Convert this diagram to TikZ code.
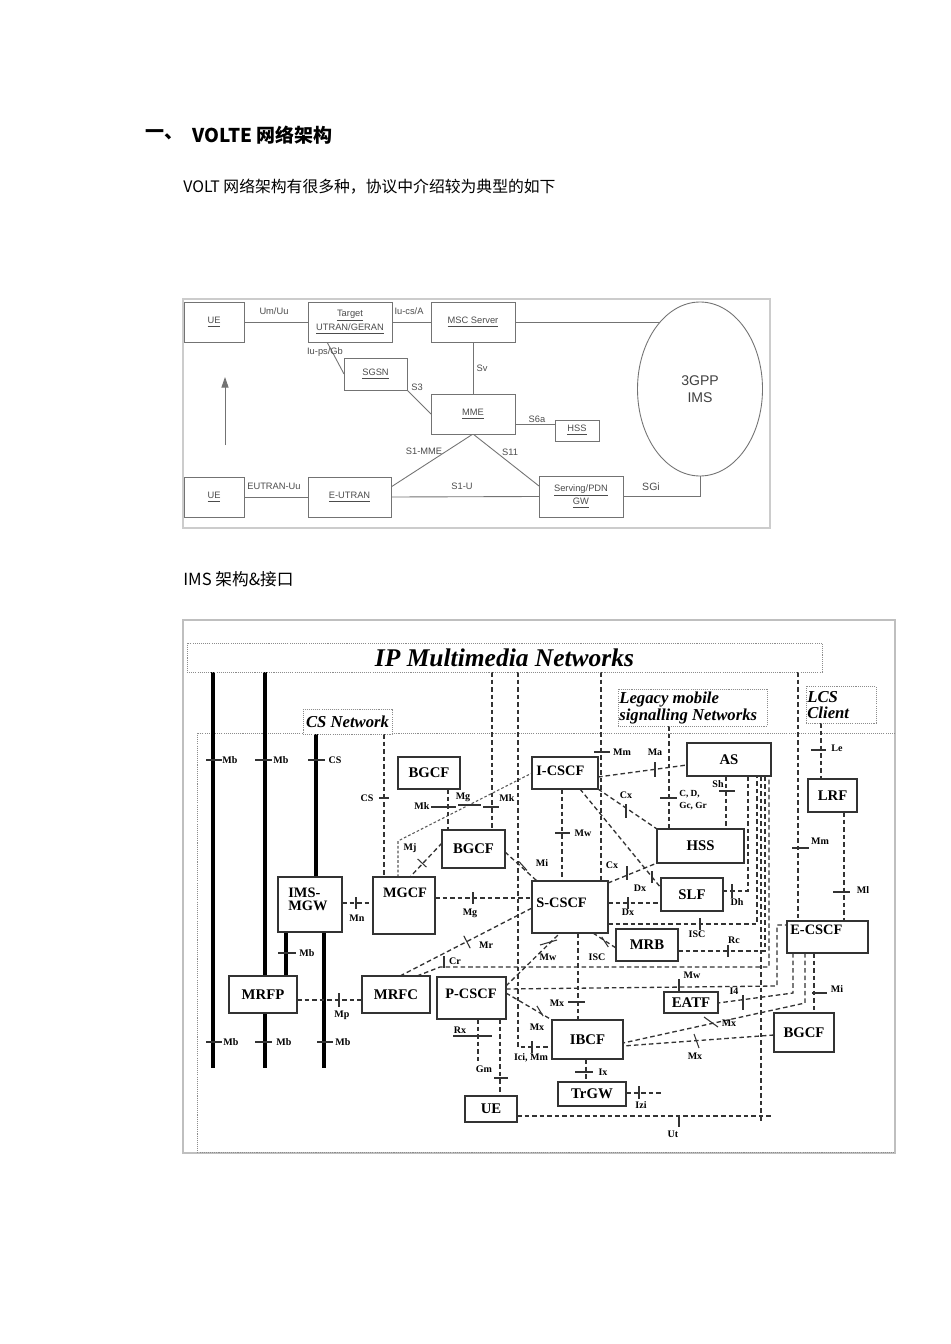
\documentclass[tikz,border=0pt]{standalone}
\usepackage{fontspec}
\newfontfamily\cjk{Noto Sans CJK SC}
\newfontfamily\arialf{Liberation Sans}
\newfontfamily\tnr{Liberation Serif}
\usetikzlibrary{shapes.geometric,arrows.meta,calc}
\pgfdeclarelayer{bg}
\pgfsetlayers{bg,main}
\newcommand{\mybox}[7]{\node[#1, minimum width={(#5-#3)*0.02cm}, minimum height={(#6-#4)*0.02cm}] (#2) at ({(#3+#5)/2},{(#4+#6)/2}) {#7};}
\begin{document}
\begin{tikzpicture}[x=0.02cm,y=-0.02cm,
 tbox/.style={draw=black!55, line width=0.5pt, fill=white, inner sep=0, outer sep=0, font=\arialf\fontsize{5.3pt}{6pt}\selectfont, text=black!70, align=center},
 tln/.style={draw=black!55, line width=0.5pt},
 ttx/.style={font=\arialf\fontsize{5.3pt}{6pt}\selectfont, text=black!70, inner sep=0, align=center},
 ibox/.style={draw=black!80, line width=0.9pt, fill=white, inner sep=0, outer sep=0, font=\tnr\bfseries\fontsize{8.4pt}{9pt}\selectfont},
 itx/.style={font=\tnr\bfseries\fontsize{8.2pt}{7.5pt}\selectfont, inner sep=0},
 ilb/.style={font=\tnr\bfseries\fontsize{5.7pt}{6pt}\selectfont, inner sep=0},
 dl/.style={draw=black!80, line width=0.75pt, dash pattern=on 2.6pt off 1.7pt},
 dlf/.style={draw=black!65, line width=0.6pt, dash pattern=on 1.5pt off 1.2pt},
 tk/.style={draw=black!80, line width=0.6pt},
 thk/.style={draw=black, line width=2.3pt},
 dotbox/.style={draw=black!45, line width=0.5pt, dash pattern=on 0.6pt off 0.6pt, fill=white, inner sep=0, outer sep=0},
 ital/.style={font=\tnr\bfseries\itshape\fontsize{9.5pt}{9.5pt}\selectfont, inner sep=0, align=left}
]
\begin{pgfonlayer}{bg}
\fill[white] (0,0) rectangle (950,1344);
\end{pgfonlayer}
\useasboundingbox (0,0) rectangle (950,1344);

\foreach \v in {213,265,286,316,324,327,384,398,400,410,417,440,448,478,492,500,518,537,560,562,578,580,586,593,601,663,669,726,748,757,761,765,769,773,777,793,798,805,814,821,844}
  \coordinate (c\v) at (\v,0);
\foreach \v in {424,486,487,765,773,777,798,841,843,852,863,883,888,891,898,903,908,924,925,948,951,967,986,989,993,1000,1003,1035,1043,1046,1047,1062,1093,1116,1122}
  \coordinate (r\v) at (0,\v);

% ---------- texts ----------
\node[anchor=west, inner sep=0, font=\cjk\bfseries\fontsize{10.8pt}{12pt}\selectfont] (h1a) at (145,135) {一、};
\node[anchor=west, inner sep=0, font=\cjk\bfseries\fontsize{10.8pt}{12pt}\selectfont] (h1b) at (192,135) {VOLTE 网络架构};
\node[anchor=west, inner sep=0, font=\cjk\fontsize{9pt}{11pt}\selectfont] (p1) at (183,187) {VOLT 网络架构有很多种，协议中介绍较为典型的如下};
\node[anchor=west, inner sep=0, font=\cjk\fontsize{9.5pt}{11pt}\selectfont] (p2) at (183,579) {IMS 架构\&接口};

% ---------- top diagram ----------
\mybox{tbox}{ue1}{184}{302}{244}{342}{\underline{UE}}
\mybox{tbox}{tgt}{308}{302}{392}{342}{\underline{Target}\\\underline{UTRAN/GERAN}}
\mybox{tbox}{msc}{431}{302}{515}{342}{\underline{MSC Server}}
\mybox{tbox}{sgsn}{344}{358}{407}{390}{\underline{SGSN}}
\mybox{tbox}{mme}{431}{394}{515}{434}{\underline{MME}}
\mybox{tbox}{hssa}{555}{420}{599}{441}{\underline{HSS}}
\mybox{tbox}{ue2}{184}{477}{244}{517}{\underline{UE}}
\mybox{tbox}{eutran}{308}{477}{391}{517}{\underline{E-UTRAN}}
\mybox{tbox}{gw}{539}{476}{623}{517}{\underline{Serving/PDN}\\\underline{GW}}
\node[draw=black!55, line width=0.5pt, ellipse, fill=white, minimum width={125*0.02cm}, minimum height={174*0.02cm}, inner sep=0, outer sep=0, font=\arialf\fontsize{8pt}{10pt}\selectfont, text=black!75, align=center] (ims) at (700,389) {3GPP\\IMS};

\node[ttx] (l-umuu) at (274,311) {Um/Uu};
\node[ttx] (l-iucs) at (409,311) {Iu-cs/A};
\node[ttx] (l-iups) at (325,352) {Iu-ps/Gb};
\node[ttx] (l-s3) at (417,387) {S3};
\node[ttx] (l-sv) at (482,368) {Sv};
\node[ttx] (l-s6a) at (537,419) {S6a};
\node[ttx] (l-s1mme) at (424,451) {S1-MME};
\node[ttx] (l-s11) at (510,452) {S11};
\node[ttx] (l-euu) at (274,486) {EUTRAN-Uu};
\node[ttx] (l-s1u) at (462,486) {S1-U};
\node[ttx, font=\arialf\fontsize{6pt}{7pt}\selectfont] (l-sgi) at (651,487) {SGi};
\coordinate (arB) at (225,445);
\coordinate (arT) at (225,377);

% ---------- IMS diagram boxes ----------
\mybox{dotbox}{ipm}{187}{643}{822}{672}{\tnr\bfseries\itshape\fontsize{14.5pt}{15pt}\selectfont IP Multimedia Networks}
\mybox{dotbox}{csn}{303}{709}{392}{734}{\tnr\bfseries\itshape\fontsize{9.5pt}{10pt}\selectfont CS Network}
\mybox{dotbox}{leg}{618}{689}{767}{726}{}
\mybox{dotbox}{lcs}{806}{686}{876}{723}{}
\node[ital, anchor=west] (t-leg) at (619,708) {Legacy mobile\\signalling Networks};
\node[ital, anchor=west] (t-lcs) at (807,705) {LCS\\Client};

\mybox{ibox}{bgcfa}{398}{757}{460}{789}{BGCF}
\mybox{ibox}{bgcfb}{442}{830}{505}{868}{BGCF}
\mybox{ibox}{icscf}{532}{757}{598}{789}{}
\mybox{ibox}{scscf}{532}{881}{608}{933}{}
\mybox{ibox}{as}{687}{743}{771}{776}{AS}
\mybox{ibox}{hss}{657}{829}{744}{863}{HSS}
\mybox{ibox}{slf}{661}{878}{723}{911}{SLF}
\mybox{ibox}{mrb}{616}{929}{678}{961}{MRB}
\mybox{ibox}{lrf}{808}{779}{857}{812}{LRF}
\mybox{ibox}{ecscf}{787}{921}{868}{953}{}
\mybox{ibox}{eatf}{664}{992}{718}{1013}{EATF}
\mybox{ibox}{bgcfc}{774}{1013}{834}{1052}{BGCF}
\mybox{ibox}{ibcf}{552}{1020}{623}{1059}{IBCF}
\mybox{ibox}{trgw}{558}{1082}{626}{1106}{TrGW}
\mybox{ibox}{mgw}{278}{877}{342}{932}{}
\mybox{ibox}{mgcf}{373}{877}{435}{934}{}
\mybox{ibox}{mrfp}{229}{976}{297}{1013}{MRFP}
\mybox{ibox}{mrfc}{362}{976}{430}{1013}{MRFC}
\mybox{ibox}{pcscf}{437}{977}{506}{1019}{}
\mybox{ibox}{ue}{465}{1096}{517}{1122}{UE}
\node[itx, anchor=west] (t-icscf) at (536,771) {I-CSCF};
\node[itx, anchor=west] (t-scscf) at (536,903) {S-CSCF};
\node[itx, anchor=west] (t-ecscf) at (790,930) {E-CSCF};
\node[itx] (t-mgcf) at (405,893) {MGCF};
\node[itx, anchor=west, align=left] (t-mgw) at (288,899) {IMS-\\MGW};
\node[itx] (t-pcscf) at (471,994) {P-CSCF};

% labels
\node[ilb] (m1) at (230,760) {Mb};
\node[ilb] (m2) at (281,760) {Mb};
\node[ilb] (m3) at (335,760) {CS};
\node[ilb] (m4) at (307,953) {Mb};
\node[ilb] (m5) at (231,1042) {Mb};
\node[ilb] (m6) at (284,1042) {Mb};
\node[ilb] (m7) at (343,1042) {Mb};
\node[ilb] (m8) at (367,798) {CS};
\node[ilb] (m9) at (422,806) {Mk};
\node[ilb] (m10) at (463,797) {Mg};
\node[ilb] (m11) at (507,798) {Mk};
\node[ilb] (m12) at (410,848) {Mj};
\node[ilb] (m13) at (542,863) {Mi};
\node[ilb] (m14) at (583,833) {Mw};
\node[ilb] (m15) at (470,913) {Mg};
\node[ilb] (m16) at (357,918) {Mn};
\node[ilb] (m17) at (486,945) {Mr};
\node[ilb] (m18) at (455,961) {Cr};
\node[ilb] (m19) at (548,957) {Mw};
\node[ilb] (m20) at (692,975) {Mw};
\node[ilb] (m21) at (537,1027) {Mx};
\node[ilb] (m22) at (557,1003) {Mx};
\node[ilb] (m23) at (460,1030) {Rx};
\node[ilb] (m24) at (484,1069) {Gm};
\node[ilb] (m25) at (673,1134) {Ut};
\node[ilb] (m26) at (737,902) {Dh};
\node[ilb] (m27) at (697,934) {ISC};
\node[ilb] (m28) at (734,940) {Rc};
\node[ilb] (m29) at (597,957) {ISC};
\node[ilb] (m30) at (612,865) {Cx};
\node[ilb] (m31) at (626,795) {Cx};
\node[ilb] (m32) at (640,888) {Dx};
\node[ilb] (m33) at (628,912) {Dx};
\node[ilb] (m34) at (622,752) {Mm};
\node[ilb] (m35) at (655,752) {Ma};
\node[ilb, anchor=west, align=left, font=\tnr\bfseries\fontsize{5.3pt}{7.2pt}\selectfont] (m36) at (679,800) {C, D,\\Gc, Gr};
\node[ilb] (m37) at (718,784) {Sh};
\node[ilb] (m38) at (820,841) {Mm};
\node[ilb] (m39) at (837,748) {Le};
\node[ilb] (m40) at (863,890) {Ml};
\node[ilb] (m41) at (734,991) {I4};
\node[ilb] (m42) at (729,1023) {Mx};
\node[ilb] (m43) at (837,989) {Mi};
\node[ilb] (m44) at (695,1056) {Mx};
\node[ilb] (m45) at (603,1072) {Ix};
\node[ilb] (m46) at (641,1105) {Izi};
\node[ilb] (m47) at (342,1015) {Mp};
\node[ilb] (m48) at (531,1058) {Ici, Mm};

\coordinate (b1) at (213,1068);
\coordinate (b2) at (265,1068);
\coordinate (b3) at (324,1068);

\begin{pgfonlayer}{bg}
% top diagram
\draw[draw=black!20, line width=0.6pt] (183,299) rectangle (770,528);
\draw[tln] (ue1.east) -- (tgt.west);
\draw[tln] (tgt.east) -- (msc.west);
\draw[tln] (msc.east) -- (msc.east -| ims.121);
\draw[tln] (tgt.south -| c327) -- (sgsn.west);
\draw[tln] (sgsn.south east) -- (mme.west);
\draw[tln] (msc.south) -- (mme.north);
\draw[tln] (mme.east |- r424) -- (hssa.west |- r424);
\draw[tln] (eutran.east |- r487) -- (mme.south);
\draw[tln] (mme.south) -- (gw.west |- r486);
\draw[tln] (ue2.east) -- (eutran.west);
\draw[tln] (eutran.east) -- (gw.west);
\draw[tln] (gw.east) -| (ims.south);
\draw[tln, -{Triangle[length=6pt,width=4pt]}] (arB) -- (arT);
\draw[black!55, line width=1.1pt] (tgt.south west) -- (tgt.south east) -- (tgt.north east);
\draw[black!55, line width=1.1pt] (sgsn.south west) -- (sgsn.south east);

% IMS frame
\draw[draw=black!25, line width=0.6pt] (183,620) rectangle (895,1153);
\draw[draw=black!45, line width=0.5pt, dash pattern=on 0.6pt off 0.6pt] (895,733) -- (197,733) -- (197,1152) -- (895,1152);

% thick bearer lines
\draw[thk] (ipm.south -| b1) -- (b1);
\draw[thk] (ipm.south -| b2) -- (b2);
\draw[thk] (csn.south -| c316) -- (mgw.north -| c316);
\draw[thk] (mgw.south -| c286) -- (mrfp.north -| c286);
\draw[thk] (mgw.south -| b3) -- (b3);
\draw[tk] (206,760) -- (222,760);
\draw[tk] (255,760) -- (272,760);
\draw[tk] (308,760) -- (325,760);
\draw[tk] (278,953) -- (296,953);
\draw[tk] (206,1042) -- (222,1042);
\draw[tk] (255,1042) -- (272,1042);
\draw[tk] (317,1042) -- (333,1042);

% dashed interfaces
\draw[dl] (csn.south -| c384) -- (mgcf.north -| c384);
\draw[tk] (379,798) -- (389,798);
\draw[dlf] (mgcf.north -| c398) -- (c398 |- r841) -- (icscf.west);
\draw[tk] (458,805) -- (481,805);
\draw[dl] (bgcfa.south -| c448) -- (bgcfb.north -| c448);
\draw[tk] (431,807) -- (456,807);
\draw[dl] (ipm.south -| c492) -- (bgcfb.north -| c492);
\draw[tk] (483,807) -- (499,807);
\draw[dl] (ipm.south -| c518) -- (c518 |- r1047) -- (ibcf.west |- r1047);
\draw[tk] (532,1041) -- (532,1053);
\draw[dl] (bgcfb.west |- r843) -- (mgcf.north -| c410);
\draw[tk] (417.6,858.9) -- (426.4,867.1);
\draw[dl] (bgcfb.east |- r852) -- (scscf.north -| c537);
\draw[tk] (519,861.6) -- (527,870.4);
\draw[dl] (icscf.south -| c562) -- (scscf.north -| c562);
\draw[tk] (555,833) -- (570,833);
\draw[dl] (mgcf.east |- r898) -- (scscf.west |- r898);
\draw[tk] (473,892) -- (473,904);
\draw[dl] (mgw.east |- r903) -- (mgcf.west |- r903);
\draw[tk] (356,897) -- (356,909);
\draw[dl] (mrfc.north -| c400) -- (scscf.west |- r908);
\draw[tk] (463.8,935.8) -- (470.2,948.2);
\draw[dl] (mrfc.north -| c417) -- (c440 |- r967) -- (c769 |- r967) -- (as.south -| c769);
\draw[tk] (444,956) -- (444,968);
\draw[dl] (pcscf.east |- r986) -- (scscf.south -| c560);
\draw[tk] (540,945) -- (557,940);
\draw[dl] (pcscf.east |- r989) -- (c777 |- r986) -- (c777 |- r925) -- (ecscf.west |- r925);
\draw[tk] (679,979) -- (679,993);
\draw[dl] (pcscf.east |- r993) -- (ibcf.north west);
\draw[tk] (536.9,1005.9) -- (543.1,1016.1);
\draw[dl] (scscf.south -| c578) -- (ibcf.north -| c578);
\draw[tk] (568,1002) -- (585,1002);
\draw[dl] (pcscf.south -| c478) -- (c478 |- r1062);
\draw[tk] (453,1036) -- (492,1036);
\draw[dl] (pcscf.south -| c500) -- (ue.north -| c500);
\draw[tk] (494,1078) -- (508,1078);
\draw[dl] (ue.east |- r1116) -- (c773 |- r1116);
\draw[tk] (679,1116) -- (679,1127);
\draw[dl] (as.south -| c761) -- (c761 |- r1122);
\draw[dl] (as.south -| c748) -- (c748 |- r891) -- (slf.east |- r891);
\draw[tk] (732,884) -- (732,898);
\draw[dl] (scscf.east |- r924) -- (c757 |- r924) -- (as.south -| c757);
\draw[tk] (700,918) -- (700,930);
\draw[dl] (mrb.east |- r951) -- (c765 |- r951) -- (as.south -| c765);
\draw[tk] (728,945) -- (728,957);
\draw[dl] (scscf.south -| c593) -- (mrb.west |- r948);
\draw[tk] (601.7,937) -- (608.3,947);
\draw[dl] (scscf.east |- r883) -- (hss.south west);
\draw[tk] (627,866) -- (627,880);
\draw[dl] (icscf.south east) -- (hss.north west);
\draw[tk] (626,804) -- (626,818);
\draw[dl] (icscf.south -| c580) -- (slf.west |- r888);
\draw[tk] (652,871) -- (652,883);
\draw[dl] (scscf.east |- r903) -- (slf.west |- r903);
\draw[tk] (628,897) -- (628,909);
\draw[dl] (ipm.south -| c601) -- (scscf.north -| c601);
\draw[tk] (594,752) -- (610,752);
\draw[dl] (icscf.east |- r777) -- (as.west |- r765);
\draw[tk] (655,762) -- (655,777);
\draw[dl] (leg.south -| c669) -- (hss.north -| c669);
\draw[tk] (660,798) -- (677,798);
\draw[dl] (as.south -| c726) -- (hss.north -| c726);
\draw[tk] (719,791) -- (735,791);
\draw[dl] (ipm.south -| c798) -- (ecscf.north -| c798);
\draw[tk] (792,848) -- (809,848);
\draw[dl] (lcs.south -| c821) -- (lrf.north -| c821);
\draw[tk] (811,750) -- (826,750);
\draw[dl] (lrf.south -| c844) -- (ecscf.north -| c844);
\draw[tk] (833,892) -- (850,892);
\draw[dl] (ecscf.south -| c793) -- (c793 |- r993) -- (eatf.east |- r1003);
\draw[tk] (743,995) -- (743,1010);
\draw[dl] (ecscf.south -| c805) -- (c805 |- r1003) -- (ibcf.east |- r1043);
\draw[tk] (704,1017) -- (718,1027);
\draw[dl] (ecscf.south -| c814) -- (bgcfc.north -| c814);
\draw[tk] (812,993) -- (827,993);
\draw[dl] (bgcfc.west |- r1035) -- (ibcf.east |- r1046);
\draw[tk] (694,1034) -- (699,1048);
\draw[dl] (ibcf.south -| c586) -- (trgw.north -| c586);
\draw[tk] (575,1072) -- (593,1072);
\draw[dl] (trgw.east |- r1093) -- (c663 |- r1093);
\draw[tk] (639,1086) -- (639,1099);
\draw[dl] (mrfp.east |- r1000) -- (mrfc.west |- r1000);
\draw[tk] (339,993) -- (339,1007);
\end{pgfonlayer}
\end{tikzpicture}
\end{document}
